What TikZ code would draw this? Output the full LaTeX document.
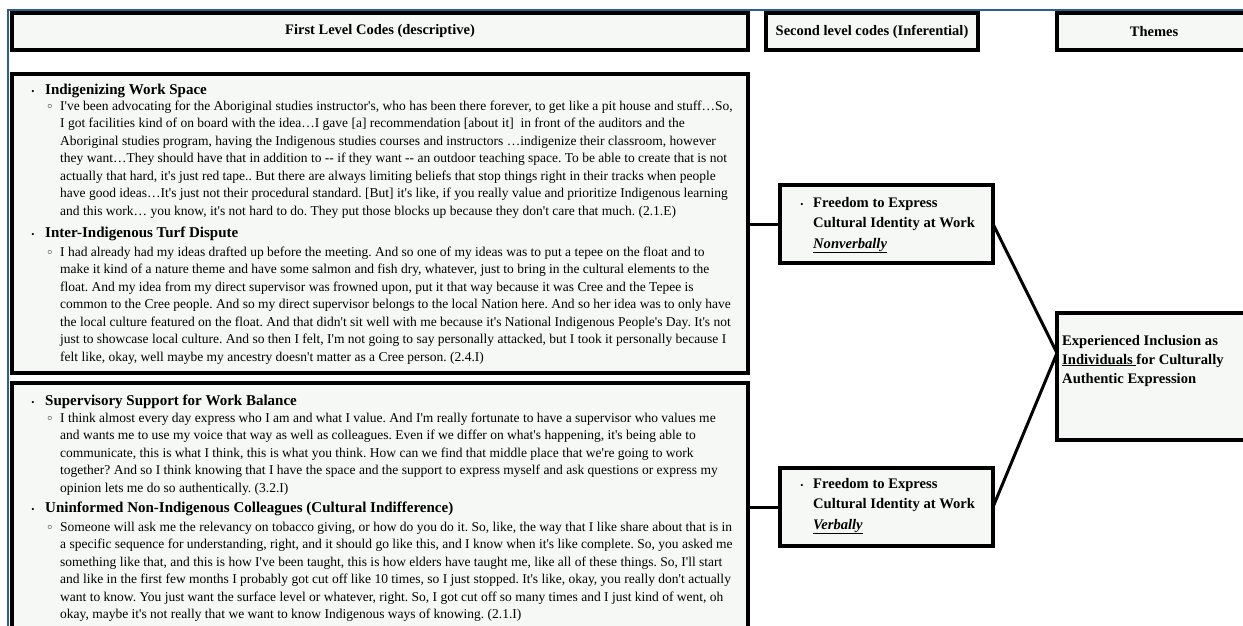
\documentclass[tikz,border=0pt]{standalone}
\usepackage{fontspec}
\setmainfont{Liberation Serif}[Ligatures=TeXOff]
\newfontfamily\dejavu{DejaVu Sans}
\usetikzlibrary{calc}
\frenchspacing
\definecolor{boxfill}{HTML}{F6F8F6}
\definecolor{framecol}{HTML}{2B5F8E}
\tikzset{
  cbox/.style={draw=black, line width=3.3pt, fill=boxfill, inner sep=0pt, outer sep=0pt, anchor=north west},
  conn/.style={draw=black, line width=3pt},
  hdr/.style={font=\fontsize{14.5}{17}\selectfont\bfseries, inner sep=0pt},
  head/.style={font=\fontsize{15}{17}\selectfont\bfseries, inner sep=0pt, anchor=base west},
  para/.style={font=\fontsize{13.5}{17.5}\selectfont, inner sep=0pt, anchor=base west},
  sec/.style={font=\fontsize{14.6}{20.5}\selectfont\bfseries, inner sep=0pt, anchor=base west},
  thm/.style={font=\fontsize{14.6}{19}\selectfont\bfseries, inner sep=0pt, anchor=base west},
  bulA/.style={font=\fontsize{9}{10}\selectfont, inner sep=0pt, anchor=base},
  bulB/.style={font=\fontsize{11}{12}\selectfont\dejavu\bfseries, inner sep=0pt, anchor=base},
}
\begin{document}
\begin{tikzpicture}[x=1pt,y=-1pt]
\useasboundingbox (0,0) rectangle (1243,625);
\clip (0,0) rectangle (1243,625);
\fill[white] (0,0) rectangle (1243,625);
% frame
\draw[framecol, line width=2pt] (8,626) -- (8,10) -- (1244,10);
% header boxes
\node (H1) [cbox, minimum width=736pt, minimum height=37pt] at (12,13) {};
\node (H2) [cbox, minimum width=212pt, minimum height=37pt] at (766,13) {};
\node (H3) [cbox, minimum width=200pt, minimum height=37pt] at (1057,13) {};
\node (H1t) [hdr] at (H1.center) {First Level Codes (descriptive)};
\node (H2t) [hdr] at (H2.center) {Second level codes (Inferential)};
\node (H3t) [hdr] at (1154,31.5) {Themes};
% first-level boxes
\node (T1) [cbox, minimum width=736pt, minimum height=299pt] at (12,74) {};
\node (T2) [cbox, minimum width=736pt, minimum height=260pt] at (12,383) {};
% box T1 content
\node (b1) [bulA] at (33,94) {•};
\node (h1) [head] at (45,94) {Indigenizing Work Space};
\node (c1) [bulB] at (50,110) {◦};
\node (q1) [para] at (60,110) {\parbox[t]{800pt}{%
I've been advocating for the Aboriginal studies instructor's, who has been there forever, to get like a pit house and stuff…So,\\
I got facilities kind of on board with the idea…I gave [a] recommendation [about it]\ \ in front of the auditors and the\\
Aboriginal studies program, having the Indigenous studies courses and instructors …indigenize their classroom, however\\
they want…They should have that in addition to -- if they want -- an outdoor teaching space. To be able to create that is not\\
actually that hard, it's just red tape.. But there are always limiting beliefs that stop things right in their tracks when people\\
have good ideas…It's just not their procedural standard. [But] it's like, if you really value and prioritize Indigenous learning\\
and this work… you know, it's not hard to do. They put those blocks up because they don't care that much. (2.1.E)}};
\node (b2) [bulA] at (33,237) {•};
\node (h2) [head] at (45,237) {Inter-Indigenous Turf Dispute};
\node (c2) [bulB] at (50,256) {◦};
\node (q2) [para] at (60,256) {\parbox[t]{800pt}{%
I had already had my ideas drafted up before the meeting. And so one of my ideas was to put a tepee on the float and to\\
make it kind of a nature theme and have some salmon and fish dry, whatever, just to bring in the cultural elements to the\\
float. And my idea from my direct supervisor was frowned upon, put it that way because it was Cree and the Tepee is\\
common to the Cree people. And so my direct supervisor belongs to the local Nation here. And so her idea was to only have\\
the local culture featured on the float. And that didn't sit well with me because it's National Indigenous People's Day. It's not\\
just to showcase local culture. And so then I felt, I'm not going to say personally attacked, but I took it personally because I\\
felt like, okay, well maybe my ancestry doesn't matter as a Cree person. (2.4.I)}};
% box T2 content
\node (b3) [bulA] at (33,405) {•};
\node (h3) [head] at (45,405) {Supervisory Support for Work Balance};
\node (c3) [bulB] at (50,422) {◦};
\node (q3) [para] at (60,422) {\parbox[t]{800pt}{%
I think almost every day express who I am and what I value. And I'm really fortunate to have a supervisor who values me\\
and wants me to use my voice that way as well as colleagues. Even if we differ on what's happening, it's being able to\\
communicate, this is what I think, this is what you think. How can we find that middle place that we're going to work\\
together? And so I think knowing that I have the space and the support to express myself and ask questions or express my\\
opinion lets me do so authentically. (3.2.I)}};
\node (b4) [bulA] at (33,512) {•};
\node (h4) [head] at (45,512) {Uninformed Non-Indigenous Colleagues (Cultural Indifference)};
\node (c4) [bulB] at (50,531) {◦};
\node (q4) [para] at (60,531) {\parbox[t]{800pt}{%
Someone will ask me the relevancy on tobacco giving, or how do you do it. So, like, the way that I like share about that is in\\
a specific sequence for understanding, right, and it should go like this, and I know when it's like complete. So, you asked me\\
something like that, and this is how I've been taught, this is how elders have taught me, like all of these things. So, I'll start\\
and like in the first few months I probably got cut off like 10 times, so I just stopped. It's like, okay, you really don't actually\\
want to know. You just want the surface level or whatever, right. So, I got cut off so many times and I just kind of went, oh\\
okay, maybe it's not really that we want to know Indigenous ways of knowing. (2.1.I)}};
% second-level boxes
\node (S1) [cbox, minimum width=213pt, minimum height=78pt] at (780,185) {};
\node (S2) [cbox, minimum width=213pt, minimum height=78pt] at (780,468) {};
\node (s1b) [bulA] at (802,207) {•};
\node (s1t) [sec] at (813,207) {\parbox[t]{200pt}{Freedom to Express\\Cultural Identity at Work\\\underline{\textit{Nonverbally}}}};
\node (s2b) [bulA] at (802,488) {•};
\node (s2t) [sec] at (813,488) {\parbox[t]{200pt}{Freedom to Express\\Cultural Identity at Work\\\underline{\textit{Verbally}}}};
% theme box
\node (TH) [cbox, minimum width=200pt, minimum height=127pt] at (1057,313) {};
\node (tht) [thm] at (1062,345) {\parbox[t]{180pt}{Experienced Inclusion as\\\underline{Individuals\ }for Culturally\\Authentic Expression}};
% connectors
\coordinate (tj) at ($(TH.north west)!0.315!(TH.south west)$);
\draw[conn] (S1.west) -- (S1.west -| T1.east);
\draw[conn] (S2.west) -- (S2.west -| T2.east);
\draw[conn] (S1.east) -- (tj);
\draw[conn] (S2.east) -- (tj);
\end{tikzpicture}
\end{document}
